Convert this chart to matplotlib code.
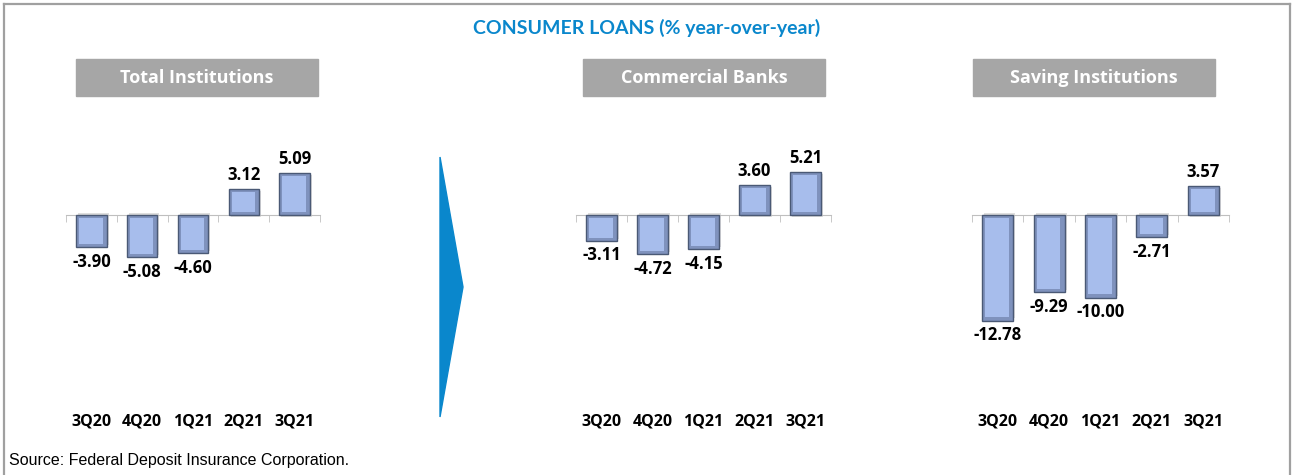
import matplotlib.pyplot as plt
from matplotlib.lines import Line2D
from matplotlib.patches import Rectangle, Polygon
import numpy as np

quarters = ["3Q20", "4Q20", "1Q21", "2Q21", "3Q21"]
total_inst = [-3.90, -5.08, -4.60, 3.12, 5.09]
commercial = [-3.11, -4.72, -4.15, 3.60, 5.21]
saving = [-12.78, -9.29, -10.00, -2.71, 3.57]
panel_titles = ["Total Institutions", "Commercial Banks", "Saving Institutions"]

W, H = 1297, 475
BLUE = "#0a87cc"
BAR_FACE = "#a7bdec"
BAR_DARK = "#7f92bd"
BAR_EDGE = "#4a5975"

fig = plt.figure(figsize=(W / 100, H / 100), dpi=100)
fig.patch.set_facecolor("white")


def fx(px):
    return px / W


def fy(py):
    return 1 - py / H


# frame around the figure (no bottom edge)
for xs, ys in [((4, 4), (475, 4)), ((4, 1290), (4, 4)), ((1290, 1290), (4, 475))]:
    fig.add_artist(Line2D([fx(x) for x in xs], [fy(y) for y in ys],
                          color="#a0a0a0", lw=1.6, transform=fig.transFigure))

fig.text(fx(647), fy(28), "CONSUMER LOANS (% year-over-year)", color=BLUE,
         fontsize=14, fontweight="bold", family="Lato", ha="center", va="center")

# big arrow between the first two panels
fig.add_artist(Polygon([(fx(440), fy(157)), (fx(463), fy(287)), (fx(440), fy(417))],
                       closed=True, color=BLUE, transform=fig.transFigure))

fig.text(fx(9), fy(461), "Source: Federal Deposit Insurance Corporation.",
         fontsize=11.5, family="Liberation Sans", ha="left", va="center")

ax_top, ax_bot = 130, 395
ylo, yhi = -21.8, 10.3
panels = [(66, 320, 76, 318, total_inst),
          (576, 831, 583, 825, commercial),
          (972, 1229, 973, 1215, saving)]

for (x0, x1, b0, b1, vals), title in zip(panels, panel_titles):
    # grey header box
    fig.add_artist(Rectangle((fx(b0), fy(96)), fx(b1 - b0), fy(59) - fy(96),
                             color="#a6a6a6", transform=fig.transFigure))
    fig.text(fx((b0 + b1) / 2), fy(78), title, color="white", fontsize=13,
             fontweight="bold", family="Open Sans", ha="center", va="center")

    ax = fig.add_axes([fx(x0), fy(ax_bot), fx(x1 - x0), fy(ax_top) - fy(ax_bot)])
    ax.set_xlim(-0.5, 4.5)
    ax.set_ylim(ylo, yhi)
    x = np.arange(len(vals))
    v = np.array(vals)

    # drop shadow, bevelled bar body, lighter face
    ax.bar(x + 0.04, v, width=0.6, bottom=np.sign(v) * -0.25, color="#c8c8c8",
           alpha=0.6, zorder=1)
    ax.bar(x, v, width=0.6, color=BAR_DARK, edgecolor=BAR_EDGE, linewidth=1.0, zorder=2)
    inset = 0.38
    ax.bar(x - 0.01, v - np.sign(v) * 2 * inset, width=0.46, bottom=np.sign(v) * inset,
           color=BAR_FACE, zorder=3)

    for xi, vi in zip(x, v):
        if vi >= 0:
            ax.text(xi, vi + 0.6, f"{vi:.2f}", ha="center", va="bottom",
                    fontsize=12, fontweight="bold", family="Open Sans")
        else:
            ax.text(xi, vi - 0.7, f"{vi:.2f}", ha="center", va="top",
                    fontsize=12, fontweight="bold", family="Open Sans")

    for s in ["top", "left", "right"]:
        ax.spines[s].set_visible(False)
    ax.spines["bottom"].set_position(("data", 0))
    ax.spines["bottom"].set_color("#bfbfbf")
    ax.spines["bottom"].set_zorder(0)
    ax.set_yticks([])
    ax.set_xticks([])
    ax.set_xticks(np.arange(-0.5, 5, 1), minor=True)
    ax.tick_params(axis="x", which="minor", length=5, color="#bfbfbf", direction="out")
    ax.patch.set_visible(False)

    lab_y = -(422 - ax_bot) / (ax_bot - ax_top)
    for xi, q in zip(x, quarters):
        ax.text(xi, lab_y, q, transform=ax.get_xaxis_transform(), ha="center",
                va="center", fontsize=11.5, fontweight="bold", family="Open Sans")

fig.savefig("out.png", dpi=100)
